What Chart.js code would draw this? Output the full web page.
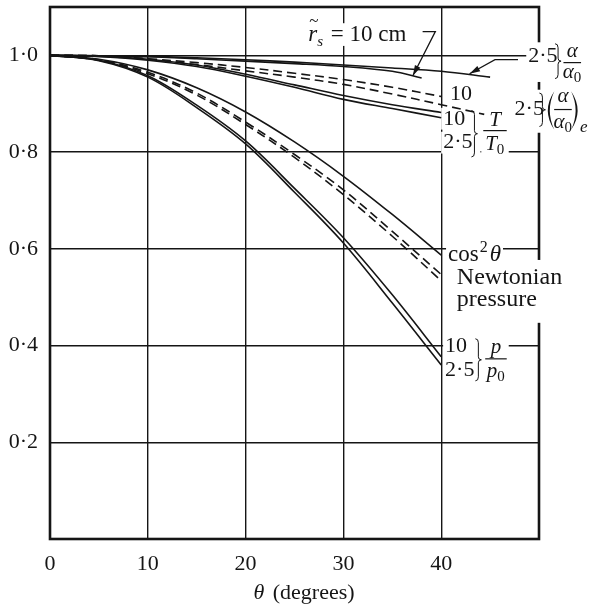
<!DOCTYPE html>
<html>
<head>
<meta charset="utf-8">
<script src="https://cdn.jsdelivr.net/npm/chart.js@4.4.1/dist/chart.umd.min.js"></script>
<style>
  html, body { margin: 0; padding: 0; background: #fff; }
</style>
</head>
<body>
<canvas id="chart" width="602" height="613"></canvas>
<script>
// 坐标轴刻度
const xTicks = [0, 10, 20, 30, 40];
const yTicks = [0, 0.2, 0.4, 0.6, 0.8, 1.0];

// θ (degrees)
const thetaStd = [0, 5, 10, 15, 20, 25, 30, 35, 40];

// cos²θ 与 Newtonian pressure（两条虚线）
const cos2Theta = [1, 0.992, 0.970, 0.933, 0.883, 0.821, 0.750, 0.671, 0.587];
const newtonUpper = [1, 0.991, 0.965, 0.922, 0.862, 0.795, 0.722, 0.636, 0.547];
const newtonLower = [1, 0.990, 0.962, 0.918, 0.857, 0.789, 0.712, 0.626, 0.534];

// p/p0：r̃s = 10, 2·5 cm
const p10 = [1, 0.990, 0.958, 0.897, 0.823, 0.725, 0.623, 0.505, 0.377];
const p25 = [1, 0.989, 0.955, 0.892, 0.817, 0.717, 0.612, 0.488, 0.360];

// T/T0
const t10 = [1, 0.998, 0.992, 0.980, 0.961, 0.939, 0.917, 0.898, 0.882];
const t25 = [1, 0.998, 0.990, 0.977, 0.957, 0.934, 0.909, 0.890, 0.871];

// (α/α0)e（虚线）
const ae10 = [1, 0.999, 0.993, 0.985, 0.975, 0.963, 0.950, 0.934, 0.915];
const thetaAe25 = [0, 5, 10, 15, 20, 25, 30, 35, 40, 44.4];
const ae25 = [1, 0.999, 0.992, 0.981, 0.968, 0.955, 0.940, 0.920, 0.898, 0.878];

// α/α0
const thetaA10 = [0, 5, 10, 15, 20, 25, 30, 35, 38];
const a10 = [1, 0.999, 0.997, 0.993, 0.988, 0.983, 0.977, 0.967, 0.953];
const thetaA25 = [0, 5, 10, 15, 20, 25, 30, 35, 40, 45];
const a25 = [1, 0.999, 0.998, 0.995, 0.991, 0.986, 0.980, 0.974, 0.967, 0.955];

const INK = '#151515';
const SERIF = '"Liberation Serif", "DejaVu Serif", serif';

function pts(xs, ys) {
    return ys.map((y, i) => ({ x: xs[i], y: y }));
}

function line(xs, ys, dashed) {
    return {
        data: pts(xs, ys),
        showLine: true,
        borderColor: INK,
        borderWidth: 1.6,
        borderDash: dashed ? [9, 5] : [],
        pointRadius: 0,
        tension: 0.35,
        fill: false
    };
}

// 文字：一组连续的片段，锚点为数据坐标
// seg: { t, f (font), dy, dx }
const textRuns = [
    { at: [26.4, 1.043], segs: [{ t: 'r', f: 'italic 23px' }, { t: 's', f: 'italic 15px', dy: 7 }, { t: ' = 10 cm', f: '23px', dx: 2 }], tilde: true },
    { at: [48.9, 0.9975], segs: [{ t: '2·5', f: '22px' }] },
    { at: [40.9, 0.919], segs: [{ t: '10', f: '22px' }] },
    { at: [47.5, 0.888], segs: [{ t: '2·5', f: '22px' }] },
    { at: [40.2, 0.869], segs: [{ t: '10', f: '22px' }] },
    { at: [40.2, 0.8195], segs: [{ t: '2·5', f: '22px' }] },
    { at: [40.7, 0.5877], segs: [{ t: 'cos', f: '23px' }, { t: '2', f: '16px', dy: -7, dx: 1 }, { t: 'θ', f: 'italic 23px', dx: 2 }] },
    { at: [41.6, 0.540], segs: [{ t: 'Newtonian', f: '24px' }] },
    { at: [41.6, 0.4946], segs: [{ t: 'pressure', f: '24px' }] },
    { at: [40.4, 0.3994], segs: [{ t: '10', f: '22px' }] },
    { at: [40.4, 0.3498], segs: [{ t: '2·5', f: '22px' }] },
    { at: [20.8, -0.112], segs: [{ t: 'θ', f: 'italic 22px' }, { t: ' (degrees)', f: '22px', dx: 3 }] }
];

// 分数：中心 x、分子 y、横线 y、分母 y、横线半宽(θ)
const fractions = [
    { x: 53.4, num: 1.008, bar: 0.985, den: 0.9644, half: 0.9, n: ['α'], d: ['α', '0'] },
    { x: 52.45, num: 0.915, bar: 0.888, den: 0.861, half: 0.9, n: ['α'], d: ['α', '0'] },
    { x: 45.5, num: 0.865, bar: 0.8444, den: 0.8154, half: 1.2, n: ['T'], d: ['T', '0'] },
    { x: 45.6, num: 0.397, bar: 0.3725, den: 0.3456, half: 1.1, n: ['p'], d: ['p', '0'] }
];

// 大括号 }：x、上端、下端
const braces = [
    [51.95, 1.024, 0.952],
    [50.35, 0.922, 0.853],
    [43.4, 0.886, 0.790],
    [43.8, 0.414, 0.327]
];

// (α/α0)e 的圆括号：左、右、上、下
const parens = [50.85, 54.0, 0.926, 0.846];

// 右边框断开处（上、下）
const borderGaps = [[1.027, 0.945], [0.929, 0.840], [0.577, 0.447]];

// 引线（带箭头）
const leaders = [
    [[38.1, 1.049], [39.4, 1.049], [37.1, 0.958]],
    [[47.85, 0.991], [45.5, 0.991], [42.9, 0.962]]
];

function drawRun(ctx, x, y, segs, mode) {
    let cx = x;
    segs.forEach(s => {
        ctx.font = s.f + ' ' + SERIF;
        cx += s.dx || 0;
        const w = ctx.measureText(s.t).width;
        const size = parseFloat(s.f.match(/(\d+)px/)[1]);
        if (mode === 'bg') {
            ctx.fillRect(cx - 2, y + (s.dy || 0) - size * 0.45 - 1, w + 4, size * 0.9 + 2);
        } else {
            ctx.fillText(s.t, cx, y + (s.dy || 0));
        }
        cx += w;
    });
}

const annotate = {
    id: 'annotate',
    beforeDatasetsDraw(chart) {
        const { ctx, chartArea: a, scales } = chart;
        const X = v => scales.x.getPixelForValue(v);
        const Y = v => scales.y.getPixelForValue(v);
        ctx.save();
        // 外框
        ctx.strokeStyle = INK;
        ctx.lineWidth = 2.6;
        ctx.strokeRect(a.left, a.top, a.right - a.left, a.bottom - a.top);
        // 文字底色（遮住网格线和边框）
        ctx.fillStyle = '#fff';
        ctx.textBaseline = 'middle';
        ctx.textAlign = 'left';
        textRuns.forEach(r => drawRun(ctx, X(r.at[0]), Y(r.at[1]), r.segs, 'bg'));
        fractions.forEach(f => {
            const l = X(f.x - f.half) - 2, rr = X(f.x + f.half) + 2;
            ctx.fillRect(l, Y(f.num) - 10, rr - l, Y(f.den) - Y(f.num) + 20);
        });
        braces.forEach(b => ctx.fillRect(X(b[0]) - 10, Y(b[1]), 16, Y(b[2]) - Y(b[1])));
        ctx.fillRect(X(parens[0]) - 2, Y(parens[2]), X(parens[1]) - X(parens[0]) + 20, Y(parens[3]) - Y(parens[2]));
        borderGaps.forEach(g => ctx.fillRect(a.right - 3, Y(g[0]), 6, Y(g[1]) - Y(g[0])));
        ctx.restore();
    },
    afterDatasetsDraw(chart) {
        const { ctx, scales } = chart;
        const X = v => scales.x.getPixelForValue(v);
        const Y = v => scales.y.getPixelForValue(v);
        ctx.save();
        ctx.fillStyle = INK;
        ctx.strokeStyle = INK;
        ctx.textBaseline = 'middle';
        ctx.textAlign = 'left';
        textRuns.forEach(r => {
            const x = X(r.at[0]), y = Y(r.at[1]);
            drawRun(ctx, x, y, r.segs, 'fg');
            if (r.tilde) {
                ctx.font = '17px ' + SERIF;
                ctx.fillText('~', x + 1, y - 13);
            }
        });
        // 分数
        fractions.forEach(f => {
            const cx = X(f.x);
            ctx.font = 'italic 21px ' + SERIF;
            ctx.textAlign = 'center';
            ctx.fillText(f.n[0], cx, Y(f.num));
            const dw = ctx.measureText(f.d[0]).width;
            ctx.fillText(f.d[0], cx - 4, Y(f.den));
            ctx.font = '15px ' + SERIF;
            ctx.textAlign = 'left';
            ctx.fillText(f.d[1], cx - 4 + dw / 2, Y(f.den) + 5);
            ctx.lineWidth = 1.2;
            ctx.beginPath();
            ctx.moveTo(X(f.x - f.half), Y(f.bar));
            ctx.lineTo(X(f.x + f.half), Y(f.bar));
            ctx.stroke();
        });
        // 大括号
        ctx.lineWidth = 1;
        braces.forEach(b => {
            const x = X(b[0]), t = Y(b[1]), bt = Y(b[2]), m = (t + bt) / 2;
            ctx.beginPath();
            ctx.moveTo(x - 3, t);
            ctx.quadraticCurveTo(x, t, x, t + 4);
            ctx.lineTo(x, m - 3);
            ctx.quadraticCurveTo(x, m, x + 3, m);
            ctx.quadraticCurveTo(x, m, x, m + 3);
            ctx.lineTo(x, bt - 4);
            ctx.quadraticCurveTo(x, bt, x - 3, bt);
            ctx.stroke();
        });
        // (α/α0)e 的圆括号和下标
        const pl = X(parens[0]), pr = X(parens[1]), pt = Y(parens[2]), pb = Y(parens[3]), pm = (pt + pb) / 2;
        ctx.beginPath();
        ctx.moveTo(pl + 7, pt);
        ctx.quadraticCurveTo(pl - 6, pm, pl + 7, pb);
        ctx.quadraticCurveTo(pl - 2, pm, pl + 7, pt);
        ctx.fill();
        ctx.beginPath();
        ctx.moveTo(pr - 7, pt);
        ctx.quadraticCurveTo(pr + 6, pm, pr - 7, pb);
        ctx.quadraticCurveTo(pr + 2, pm, pr - 7, pt);
        ctx.fill();
        ctx.font = 'italic 17px ' + SERIF;
        ctx.textAlign = 'left';
        ctx.fillText('e', pr + 2, pb - 2);
        // 引线和箭头
        ctx.lineWidth = 1.3;
        leaders.forEach(pl => {
            ctx.beginPath();
            pl.forEach((p, i) => {
                if (i === 0) ctx.moveTo(X(p[0]), Y(p[1]));
                else ctx.lineTo(X(p[0]), Y(p[1]));
            });
            ctx.stroke();
            const n = pl.length;
            const tx = X(pl[n - 1][0]), ty = Y(pl[n - 1][1]);
            const fx = X(pl[n - 2][0]), fy = Y(pl[n - 2][1]);
            const ang = Math.atan2(ty - fy, tx - fx);
            ctx.beginPath();
            ctx.moveTo(tx, ty);
            ctx.lineTo(tx - 11 * Math.cos(ang - 0.28), ty - 11 * Math.sin(ang - 0.28));
            ctx.lineTo(tx - 11 * Math.cos(ang + 0.28), ty - 11 * Math.sin(ang + 0.28));
            ctx.closePath();
            ctx.fill();
        });
        ctx.restore();
    }
};

new Chart(document.getElementById('chart'), {
    type: 'scatter',
    data: {
        datasets: [
            line(thetaStd, cos2Theta, false),
            line(thetaStd, newtonUpper, true),
            line(thetaStd, newtonLower, true),
            line(thetaStd, p10, false),
            line(thetaStd, p25, false),
            line(thetaStd, t10, false),
            line(thetaStd, t25, false),
            line(thetaStd, ae10, true),
            line(thetaAe25, ae25, true),
            line(thetaA10, a10, false),
            line(thetaA25, a25, false)
        ]
    },
    options: {
        responsive: false,
        animation: false,
        layout: { padding: { top: 7, right: 63, left: 0, bottom: 0 } },
        plugins: {
            legend: { display: false },
            tooltip: { enabled: false }
        },
        scales: {
            x: {
                type: 'linear',
                min: 0,
                max: 50,
                afterBuildTicks: s => { s.ticks = xTicks.map(v => ({ value: v })); },
                afterFit: s => { s.height = 74; s.paddingLeft = 0; s.paddingRight = 0; },
                grid: { color: INK, lineWidth: 1.4, drawTicks: false },
                border: { display: false },
                ticks: {
                    padding: 12,
                    color: INK,
                    maxRotation: 0,
                    font: { family: SERIF, size: 22 },
                    callback: v => String(v)
                }
            },
            y: {
                type: 'linear',
                min: 0,
                max: 1.1,
                afterBuildTicks: s => { s.ticks = yTicks.map(v => ({ value: v })); },
                afterFit: s => { s.width = 50; s.paddingTop = 0; s.paddingBottom = 0; },
                grid: { color: INK, lineWidth: 1.4, drawTicks: false },
                border: { display: false },
                ticks: {
                    padding: 12,
                    color: INK,
                    font: { family: SERIF, size: 22 },
                    callback: v => v === 0 ? '' : v.toFixed(1).replace('.', '·')
                }
            }
        }
    },
    plugins: [annotate]
});
</script>
</body>
</html>
